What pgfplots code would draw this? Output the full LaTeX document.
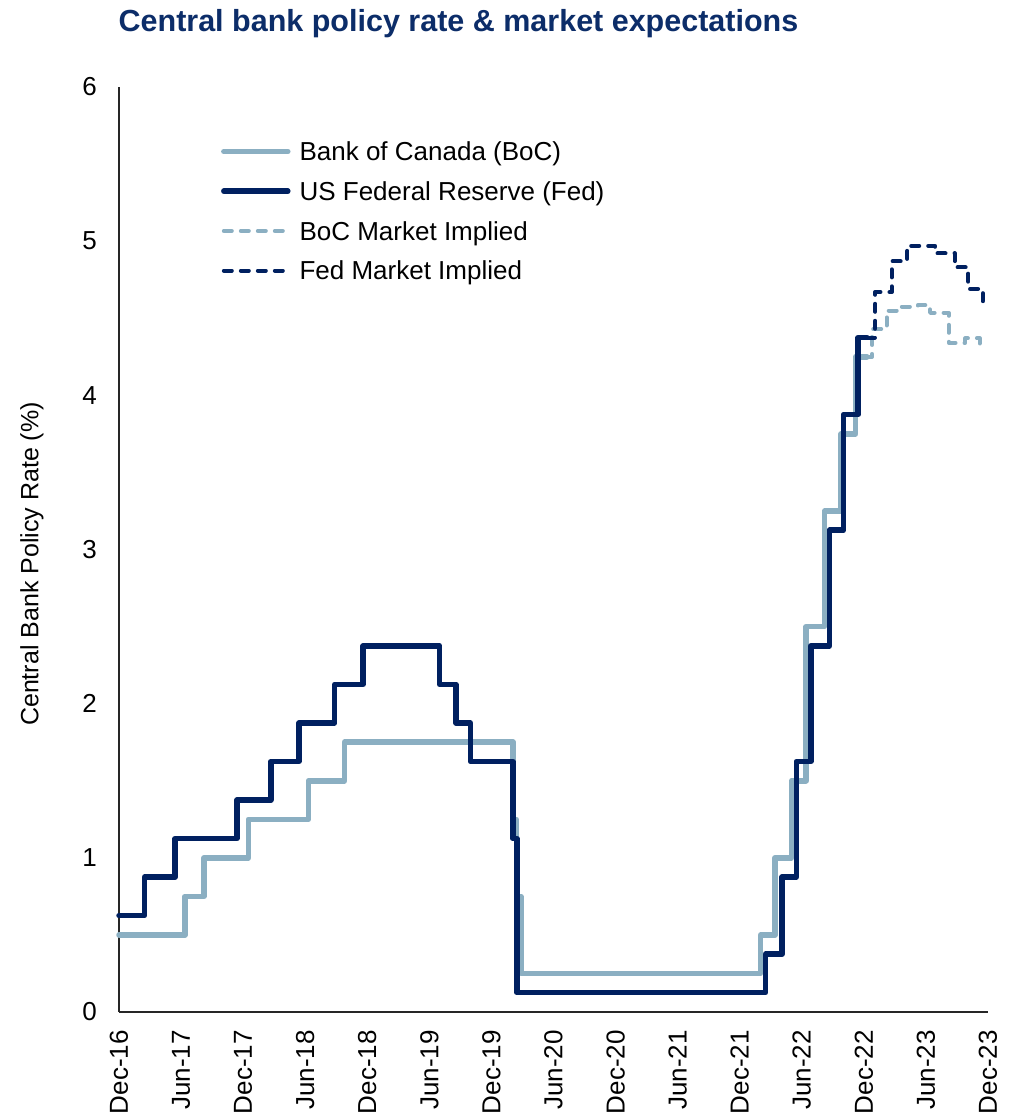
\documentclass[border=0pt]{standalone}
\usepackage{fontspec}
\setmainfont{Liberation Sans}
\usepackage{pgfplots}
\pgfplotsset{compat=1.18}
\definecolor{boc}{RGB}{139,175,194}
\definecolor{fed}{RGB}{0,32,96}
\definecolor{ttl}{RGB}{12,45,105}
\begin{document}
\begin{tikzpicture}[x=1pt,y=1pt]
\useasboundingbox (0,0) rectangle (1015,1117);
\node[anchor=base, text=ttl, font=\fontsize{30.5}{36}\selectfont\bfseries, inner sep=0pt] at (458.5,1085) {Central bank policy rate \& market expectations};
\node[rotate=90, font=\fontsize{25}{30}\selectfont, inner sep=0pt] at (32,553) {Central Bank Policy Rate (\%)};
\begin{axis}[
  at={(119pt,105pt)}, anchor=south west,
  scale only axis, width=869pt, height=925pt,
  xmin=0, xmax=84, ymin=0, ymax=6,
  axis x line*=bottom, axis y line*=left,
  axis line style={-, line width=1.4pt, black!85},
  major tick length=0pt,
  xtick={0,6,...,84},
  xticklabels={Dec-16,Jun-17,Dec-17,Jun-18,Dec-18,Jun-19,Dec-19,Jun-20,Dec-20,Jun-21,Dec-21,Jun-22,Dec-22,Jun-23,Dec-23},
  ytick={0,1,2,3,4,5,6},
  /pgf/number format/assume math mode=true,
  tick label style={font=\fontsize{26}{30}\selectfont, inner sep=0pt},
  xticklabel style={rotate=90, anchor=east},
  xticklabel shift=18pt,
  yticklabel shift=22pt,
  clip=false,
  legend style={at={(axis description cs:0.1140,0.9429)}, anchor=north west, draw=none, fill=none, inner sep=0pt, outer sep=0pt, row sep=16.3pt,
    font=\fontsize{26}{30}\selectfont,
    nodes={inner sep=0pt, text height=21pt, text depth=2.4pt}},
  legend cell align=left,
  legend image code/.code={\draw[#1] (3pt,0pt) -- (67pt,0pt); \path (0pt,0pt) (76pt,0pt);},
  every axis plot/.append style={line join=round},
]
\addplot[const plot, color=boc, line width=5.5pt, line cap=round] coordinates {
(0,0.5)(6.37,0.75)(8.2,1.0)(12.5,1.25)(18.3,1.5)(21.8,1.75)(38.1,1.25)(38.4,0.75)(38.85,0.25)(62.03,0.5)(63.4,1.0)(65.0,1.5)(66.4,2.5)(68.2,3.25)(69.8,3.75)(71.2,4.25)(72.3,4.25)};
\addlegendentry{Bank of Canada (BoC)}
\addplot[const plot, color=fed, line width=5.5pt, line cap=round] coordinates {
(0,0.625)(2.47,0.875)(5.43,1.125)(11.4,1.375)(14.67,1.625)(17.4,1.875)(20.85,2.125)(23.6,2.375)(31.0,2.125)(32.57,1.875)(33.97,1.625)(38.07,1.125)(38.47,0.125)(62.5,0.375)(64.1,0.875)(65.47,1.625)(66.87,2.375)(68.67,3.125)(70.03,3.875)(71.45,4.375)(72.3,4.375)};
\addlegendentry{US Federal Reserve (Fed)}
\addplot[const plot, color=boc, line width=4pt, line cap=round, dash pattern=on 8pt off 9pt] coordinates {
(72.3,4.25)(72.8,4.43)(74.2,4.55)(75.4,4.575)(77.2,4.585)(78.4,4.535)(80.2,4.34)(81.8,4.37)(83.2,4.31)(83.6,4.31)};
\addlegendentry{BoC Market Implied}
\addplot[const plot, color=fed, line width=4pt, line cap=round, dash pattern=on 8pt off 9pt] coordinates {
(72.3,4.375)(73.1,4.67)(74.7,4.87)(76.2,4.97)(78.9,4.92)(80.8,4.83)(82.1,4.69)(83.5,4.58)(83.7,4.58)};
\addlegendentry{Fed Market Implied}
\end{axis}
\end{tikzpicture}
\end{document}
